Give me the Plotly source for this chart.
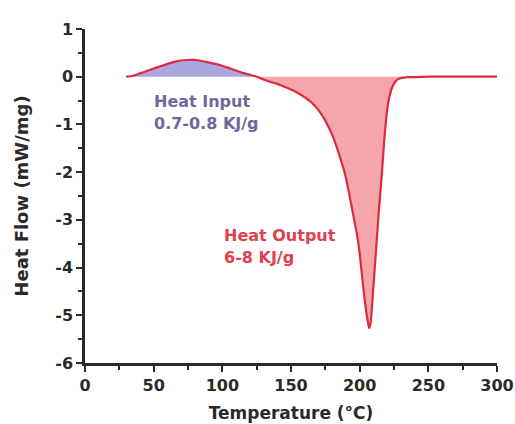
import plotly.graph_objects as go

# Temperature (°C) and heat flow (mW/mg)
temperature = [30, 35, 40, 45, 50, 55, 60, 65, 70, 75, 80, 85, 90, 95, 100, 105, 110, 115, 120, 125,
               130, 135, 140, 145, 150, 155, 160, 165, 170, 175, 180, 183, 186, 189, 192, 195, 198,
               200, 202, 204, 206, 207, 208, 210, 212, 214, 216, 218, 220, 222, 224, 226, 228, 230,
               235, 240, 250, 260, 270, 280, 290, 300]
heat_flow = [0.0, 0.02, 0.07, 0.12, 0.17, 0.22, 0.27, 0.31, 0.34, 0.35, 0.35, 0.33, 0.30, 0.27, 0.23,
             0.18, 0.13, 0.08, 0.04, 0.0,
             -0.06, -0.11, -0.15, -0.21, -0.27, -0.34, -0.43, -0.54, -0.70, -0.92, -1.22, -1.45, -1.72,
             -2.0, -2.4, -2.85, -3.3, -3.7, -4.25, -4.75, -5.15, -5.27, -5.15, -4.4, -3.6, -2.8, -2.1,
             -1.3, -0.7, -0.38, -0.2, -0.1, -0.05, -0.03, -0.01, -0.01, 0.0, 0.0, 0.0, 0.0, 0.0, 0.0]
split_temp = 125

x_ticks = [0, 50, 100, 150, 200, 250, 300]
y_ticks = [1, 0, -1, -2, -3, -4, -5, -6]

inp_x = [t for t in temperature if t <= split_temp]
inp_y = [h for t, h in zip(temperature, heat_flow) if t <= split_temp]
out_x = [t for t in temperature if t >= split_temp]
out_y = [h for t, h in zip(temperature, heat_flow) if t >= split_temp]

FONT = "DejaVu Sans"
AX = "#2a2a2a"

fig = go.Figure()
fig.add_trace(go.Scatter(x=inp_x, y=inp_y, fill="tozeroy", mode="none",
                         fillcolor="#aaa6de", showlegend=False, hoverinfo="skip"))
fig.add_trace(go.Scatter(x=out_x, y=out_y, fill="tozeroy", mode="none",
                         fillcolor="#f6a6aa", showlegend=False, hoverinfo="skip"))
fig.add_trace(go.Scatter(x=temperature, y=heat_flow, mode="lines",
                         line=dict(color="#dd2a3f", width=2.2, shape="spline", smoothing=0.6),
                         showlegend=False))

fig.add_annotation(x=49, y=-0.52, text="<b>Heat Input</b>", showarrow=False, xanchor="left",
                   font=dict(family=FONT, size=16, color="#6c6a9c"))
fig.add_annotation(x=49, y=-0.98, text="<b>0.7-0.8 KJ/g</b>", showarrow=False, xanchor="left",
                   font=dict(family=FONT, size=16, color="#6c6a9c"))
fig.add_annotation(x=100, y=-3.32, text="<b>Heat Output</b>", showarrow=False, xanchor="left",
                   font=dict(family=FONT, size=16, color="#e0404f"))
fig.add_annotation(x=100, y=-3.78, text="<b>6-8 KJ/g</b>", showarrow=False, xanchor="left",
                   font=dict(family=FONT, size=16, color="#e0404f"))

fig.update_layout(
    width=515, height=424,
    margin=dict(l=85, r=18, t=29, b=61),
    paper_bgcolor="white", plot_bgcolor="white",
    font=dict(family=FONT, color=AX),
    xaxis=dict(range=[0, 300], tickvals=x_ticks, ticktext=[f"<b>{v}</b>" for v in x_ticks],
               automargin=False,
               showgrid=False, zeroline=False, showline=True, linecolor=AX, linewidth=2.5,
               ticks="outside", ticklen=6, tickwidth=2, tickcolor=AX,
               minor=dict(dtick=25, ticks="outside", ticklen=4, tickwidth=2, tickcolor=AX),
               tickfont=dict(family=FONT, size=16, color=AX),
               title=dict(text="<b>Temperature (°C)</b>", font=dict(family=FONT, size=17, color=AX),
                          standoff=14)),
    yaxis=dict(range=[-6, 1], tickvals=y_ticks, ticktext=[f"<b>{v}</b>" for v in y_ticks],
               automargin=False,
               showgrid=False, zeroline=False, showline=True, linecolor=AX, linewidth=2.5,
               ticks="outside", ticklen=6, tickwidth=2, tickcolor=AX,
               minor=dict(dtick=0.5, ticks="outside", ticklen=4, tickwidth=2, tickcolor=AX),
               tickfont=dict(family=FONT, size=16, color=AX),
               title=dict(text="<b>Heat Flow (mW/mg)</b>", font=dict(family=FONT, size=18, color=AX),
                          standoff=22)),
)

# remove the page's default body margin and scrollbars so the 515x424 figure fills the window
fig.write_html("out.html",
               config={"displayModeBar": False},
               post_script="document.body.style.margin='0';"
                           "document.documentElement.style.overflow='hidden';"
                           "document.body.style.overflow='hidden';")
